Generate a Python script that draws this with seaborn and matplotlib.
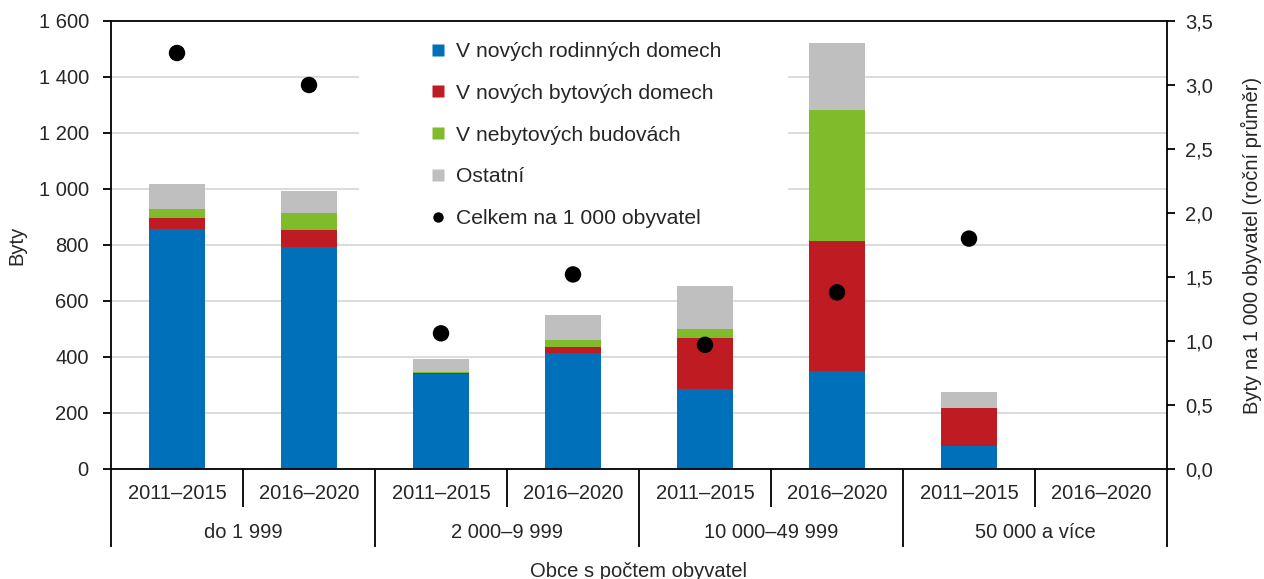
import numpy as np
import pandas as pd
import seaborn as sns
import matplotlib.pyplot as plt
from matplotlib.lines import Line2D
from matplotlib.patches import Rectangle
from matplotlib.ticker import FuncFormatter
import matplotlib.transforms as mtransforms

# data
skupiny = ["do 1 999", "2 000–9 999", "10 000–49 999", "50 000 a více"]
obdobi = ["2011–2015", "2016–2020"]
rodinne = [856, 794, 340, 415, 285, 349, 83, np.nan]
bytove = [39, 61, 2, 21, 182, 466, 136, np.nan]
nebytove = [32, 60, 6, 25, 32, 468, 0, np.nan]
ostatni = [91, 78, 46, 89, 155, 237, 56, np.nan]
na_1000 = [3.25, 3.00, 1.06, 1.52, 0.97, 1.38, 1.80, np.nan]

serie = ["V nových rodinných domech", "V nových bytových domech",
         "V nebytových budovách", "Ostatní"]
barvy = ["#0070BA", "#BE1B22", "#80BB2C", "#BFBFBF"]

sns.set_style("white")
plt.rcParams["font.family"] = ["Liberation Sans", "DejaVu Sans"]
plt.rcParams["font.size"] = 14.5

n = len(skupiny) * len(obdobi)
slot = list(range(n))
df = pd.DataFrame({"slot": slot, "rodinne": rodinne, "bytove": bytove,
                   "nebytove": nebytove, "ostatni": ostatni, "na_1000": na_1000})
df = df.dropna()
# cumulative tops for the stack
df["c1"] = df["rodinne"]
df["c2"] = df["c1"] + df["bytove"]
df["c3"] = df["c2"] + df["nebytove"]
df["c4"] = df["c3"] + df["ostatni"]

fig = plt.figure(figsize=(12.64, 5.79), dpi=100)
ax = fig.add_axes([111 / 1264, 110 / 579, 1056 / 1264, 448 / 579])

# draw from the top layer down so each layer covers the one below
for col, barva in zip(["c4", "c3", "c2", "c1"], barvy[::-1]):
    sns.barplot(data=df, x="slot", y=col, order=slot, color=barva, saturation=1,
                width=0.42, linewidth=0, errorbar=None, ax=ax)

ax.set_xlim(-0.5, n - 0.5)
ax.set_ylim(0, 1600)
ax.set_yticks(range(0, 1601, 200))
ax.yaxis.set_major_formatter(FuncFormatter(lambda v, p: f"{v:,.0f}".replace(",", " ")))
ax.set_axisbelow(True)
ax.yaxis.grid(True, color="#D9D9D9", linewidth=1.3)
ax.xaxis.grid(False)
ax.set_ylabel("Byty", labelpad=9)

# white area behind legend
ax.add_patch(Rectangle((0.235, 0.55), 0.406, 0.44, transform=ax.transAxes,
                       facecolor="white", edgecolor="none", zorder=0.9))

for s in ax.spines.values():
    s.set_color("black")
    s.set_linewidth(1.3)
ax.tick_params(axis="y", length=6, width=1.3, pad=10, color="black")

# two-level x axis
ax.set_xticks(slot)
ax.set_xticklabels(obdobi * len(skupiny))
ax.tick_params(axis="x", length=0, pad=11)
ax.set_xlabel("Obce s počtem obyvatel", labelpad=42)
trans = mtransforms.blended_transform_factory(ax.transData, ax.transAxes)
for b in np.arange(-0.5, n, 1.0):
    dolni = -0.174 if int(b + 0.5) % 2 == 0 else -0.085
    ax.plot([b, b], [0, dolni], transform=trans, color="black", lw=1.3,
            clip_on=False, solid_capstyle="butt")
for i, g in enumerate(skupiny):
    ax.text(2 * i + 0.5, -0.141, g, transform=trans, ha="center", va="center")

# per 1 000 inhabitants on the right axis
ax2 = ax.twinx()
sns.scatterplot(data=df, x="slot", y="na_1000", color="black", s=140,
                edgecolor="none", legend=False, ax=ax2, zorder=5)
ax2.set_ylim(0, 3.5)
ax2.set_yticks(np.arange(0, 3.51, 0.5))
ax2.yaxis.set_major_formatter(FuncFormatter(lambda v, p: f"{v:.1f}".replace(".", ",")))
ax2.set_ylabel("Byty na 1 000 obyvatel (roční průměr)", labelpad=20)
ax2.tick_params(axis="y", length=6, width=1.3, pad=7, color="black")
for s in ax2.spines.values():
    s.set_visible(False)

handles = [Line2D([], [], marker="s", linestyle="none", markersize=8,
                  markerfacecolor=c, markeredgecolor="none") for c in barvy]
handles.append(Line2D([], [], marker="o", linestyle="none", markersize=7.5,
                      markerfacecolor="black", markeredgecolor="none"))
ax2.legend(handles, serie + ["Celkem na 1 000 obyvatel"], loc="upper left",
           bbox_to_anchor=(0.302, 0.953), frameon=False, borderpad=0,
           borderaxespad=0, handlelength=0.75, handletextpad=0.5, labelspacing=1.08,
           fontsize=15.2)

fig.savefig("out.png", dpi=100)
